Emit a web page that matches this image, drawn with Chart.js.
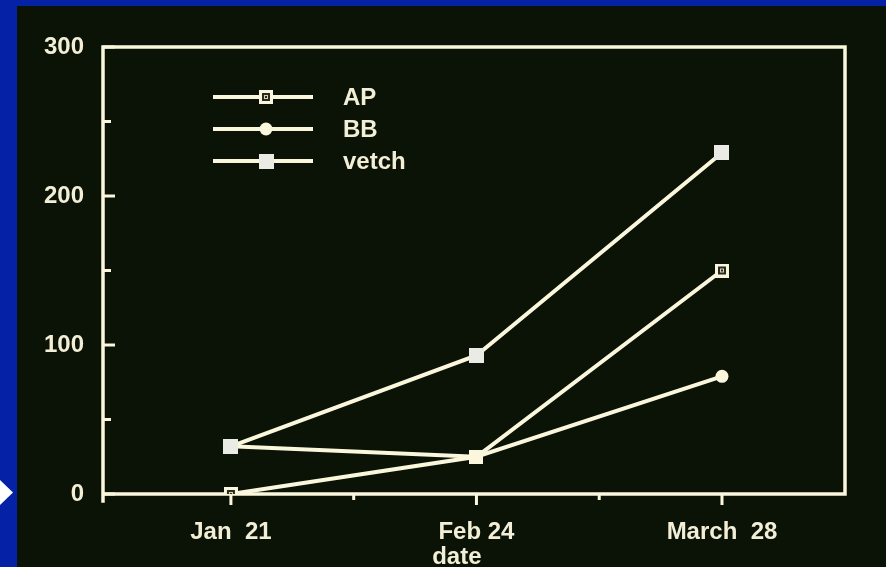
<!DOCTYPE html>
<html>
<head>
<meta charset="utf-8">
<script src="https://cdn.jsdelivr.net/npm/chart.js@4.4.1/dist/chart.umd.min.js"></script>
<style>
  html, body { margin: 0; padding: 0; }
  body { width: 886px; height: 567px; background: #0521a5; position: relative; overflow: hidden; }
  .diapositiva { position: absolute; left: 17px; top: 6px; width: 869px; height: 561px; background: #0b1307; }
  .flecha { position: absolute; left: 0; top: 480px; width: 13px; height: 25px; background: #ffffff;
    clip-path: polygon(0 0, 100% 50%, 0 100%); }
</style>
</head>
<body>
<div class="flecha"></div>
<div class="diapositiva">
  <canvas id="grafica" width="869" height="561"></canvas>
</div>
<script>
const categorias = ["Jan  21", "Feb 24", "March  28"];
const valoresAP = [0, 25, 150];
const valoresBB = [32, 25, 79];
const valoresVetch = [32, 93, 229];
const ticksY = [0, 100, 200, 300];
const ticksMenoresY = [50, 150, 250];
const ticksMenoresX = [0.5, 1.5];
const tituloX = "date";

const crema = "#fbf7dc";
const textoColor = "#f3efd6";
const fuente = '"Liberation Sans", Arial, sans-serif';

// marcadores hechos en canvas
function marcadorCuadroHueco() {
  const c = document.createElement("canvas");
  c.width = 14; c.height = 14;
  const x = c.getContext("2d");
  x.fillStyle = crema; x.fillRect(0, 0, 14, 14);
  x.fillStyle = "#2a2a20"; x.fillRect(3, 3, 8, 8);
  x.fillStyle = "#d8d4bc"; x.fillRect(5, 5, 4, 4);
  x.fillStyle = "#2a2a20"; x.fillRect(6, 6, 2, 2);
  return c;
}
function marcadorCuadroLleno() {
  const c = document.createElement("canvas");
  c.width = 15; c.height = 15;
  const x = c.getContext("2d");
  x.fillStyle = "#e9ebe4"; x.fillRect(0, 0, 15, 15);
  return c;
}
const imgAP = marcadorCuadroHueco();
const imgVetch = marcadorCuadroLleno();

function puntos(valores) {
  return valores.map((v, i) => ({ x: i, y: v }));
}

const conjuntos = [
  { label: "AP", data: puntos(valoresAP), pointStyle: imgAP, order: 2 },
  { label: "BB", data: puntos(valoresBB), pointStyle: "circle", pointRadius: 6.5, order: 1 },
  { label: "vetch", data: puntos(valoresVetch), pointStyle: imgVetch, order: 0 },
].map((d) => ({
  borderColor: crema,
  backgroundColor: crema,
  pointBackgroundColor: crema,
  pointBorderColor: crema,
  borderWidth: 4,
  pointRadius: 7,
  pointBorderWidth: 0,
  tension: 0,
  ...d,
}));

// marco, ticks, titulo del eje y leyenda
const marcoPlugin = {
  id: "marco",
  beforeDatasetsDraw(chart) {
    const { ctx, chartArea: a, scales } = chart;
    ctx.save();
    ctx.strokeStyle = crema;
    ctx.lineWidth = 3.5;
    ctx.lineCap = "square";
    ctx.beginPath();
    ctx.moveTo(a.left, a.bottom + 7);
    ctx.lineTo(a.left, a.top);
    ctx.lineTo(a.right, a.top);
    ctx.lineTo(a.right, a.bottom);
    ctx.lineTo(a.left, a.bottom);
    ctx.stroke();

    ctx.lineWidth = 3;
    ctx.lineCap = "butt";
    ctx.beginPath();
    ticksY.forEach((v) => {
      const y = scales.y.getPixelForValue(v);
      ctx.moveTo(a.left, y); ctx.lineTo(a.left + 12, y);
    });
    ticksMenoresY.forEach((v) => {
      const y = scales.y.getPixelForValue(v);
      ctx.moveTo(a.left, y); ctx.lineTo(a.left + 8, y);
    });
    categorias.forEach((c, i) => {
      const x = scales.x.getPixelForValue(i);
      ctx.moveTo(x, a.bottom); ctx.lineTo(x, a.bottom + 11);
    });
    ticksMenoresX.forEach((v) => {
      const x = scales.x.getPixelForValue(v);
      ctx.moveTo(x, a.bottom); ctx.lineTo(x, a.bottom + 6);
    });
    ctx.stroke();

    ctx.fillStyle = textoColor;
    ctx.font = "bold 24px " + fuente;
    ctx.textAlign = "center";
    ctx.textBaseline = "alphabetic";
    ctx.fillText(tituloX, scales.x.getPixelForValue(0.92), 558);
    ctx.restore();
  },
  afterDraw(chart) {
    const { ctx } = chart;
    ctx.save();
    chart.data.datasets.forEach((d, i) => {
      const y = 91 + i * 32;
      ctx.strokeStyle = crema;
      ctx.lineWidth = 4;
      ctx.beginPath();
      ctx.moveTo(196, y); ctx.lineTo(296, y);
      ctx.stroke();
      const estilo = d.pointStyle;
      if (estilo === "circle") {
        ctx.fillStyle = crema;
        ctx.beginPath();
        ctx.arc(249, y, d.pointRadius, 0, Math.PI * 2);
        ctx.fill();
      } else {
        ctx.drawImage(estilo, 249 - estilo.width / 2, y - estilo.height / 2);
      }
      ctx.fillStyle = textoColor;
      ctx.font = "bold 24px " + fuente;
      ctx.textAlign = "left";
      ctx.textBaseline = "middle";
      ctx.fillText(d.label, 326, y + 1);
    });
    ctx.restore();
  },
};

const ctx = document.getElementById("grafica").getContext("2d");
new Chart(ctx, {
  type: "line",
  data: { datasets: conjuntos },
  options: {
    responsive: false,
    animation: false,
    devicePixelRatio: 1,
    layout: { padding: { top: 41, right: 41, left: 0, bottom: 0 } },
    plugins: { legend: { display: false }, tooltip: { enabled: false } },
    scales: {
      x: {
        type: "linear",
        min: -0.521,
        max: 2.501,
        afterBuildTicks: (s) => { s.ticks = categorias.map((c, i) => ({ value: i })); },
        afterFit: (s) => { s.height = 73; },
        grid: { display: false },
        border: { display: false },
        ticks: {
          color: textoColor,
          font: { family: fuente, size: 24, weight: "bold" },
          padding: 16,
          maxRotation: 0,
          autoSkip: false,
          callback: (v) => categorias[v] ?? "",
        },
      },
      y: {
        min: 0,
        max: 300,
        afterBuildTicks: (s) => { s.ticks = ticksY.map((v) => ({ value: v })); },
        afterFit: (s) => { s.width = 86; },
        grid: { display: false },
        border: { display: false },
        ticks: {
          color: textoColor,
          font: { family: fuente, size: 24, weight: "bold" },
          padding: 11,
        },
      },
    },
  },
  plugins: [marcoPlugin],
});
</script>
</body>
</html>
